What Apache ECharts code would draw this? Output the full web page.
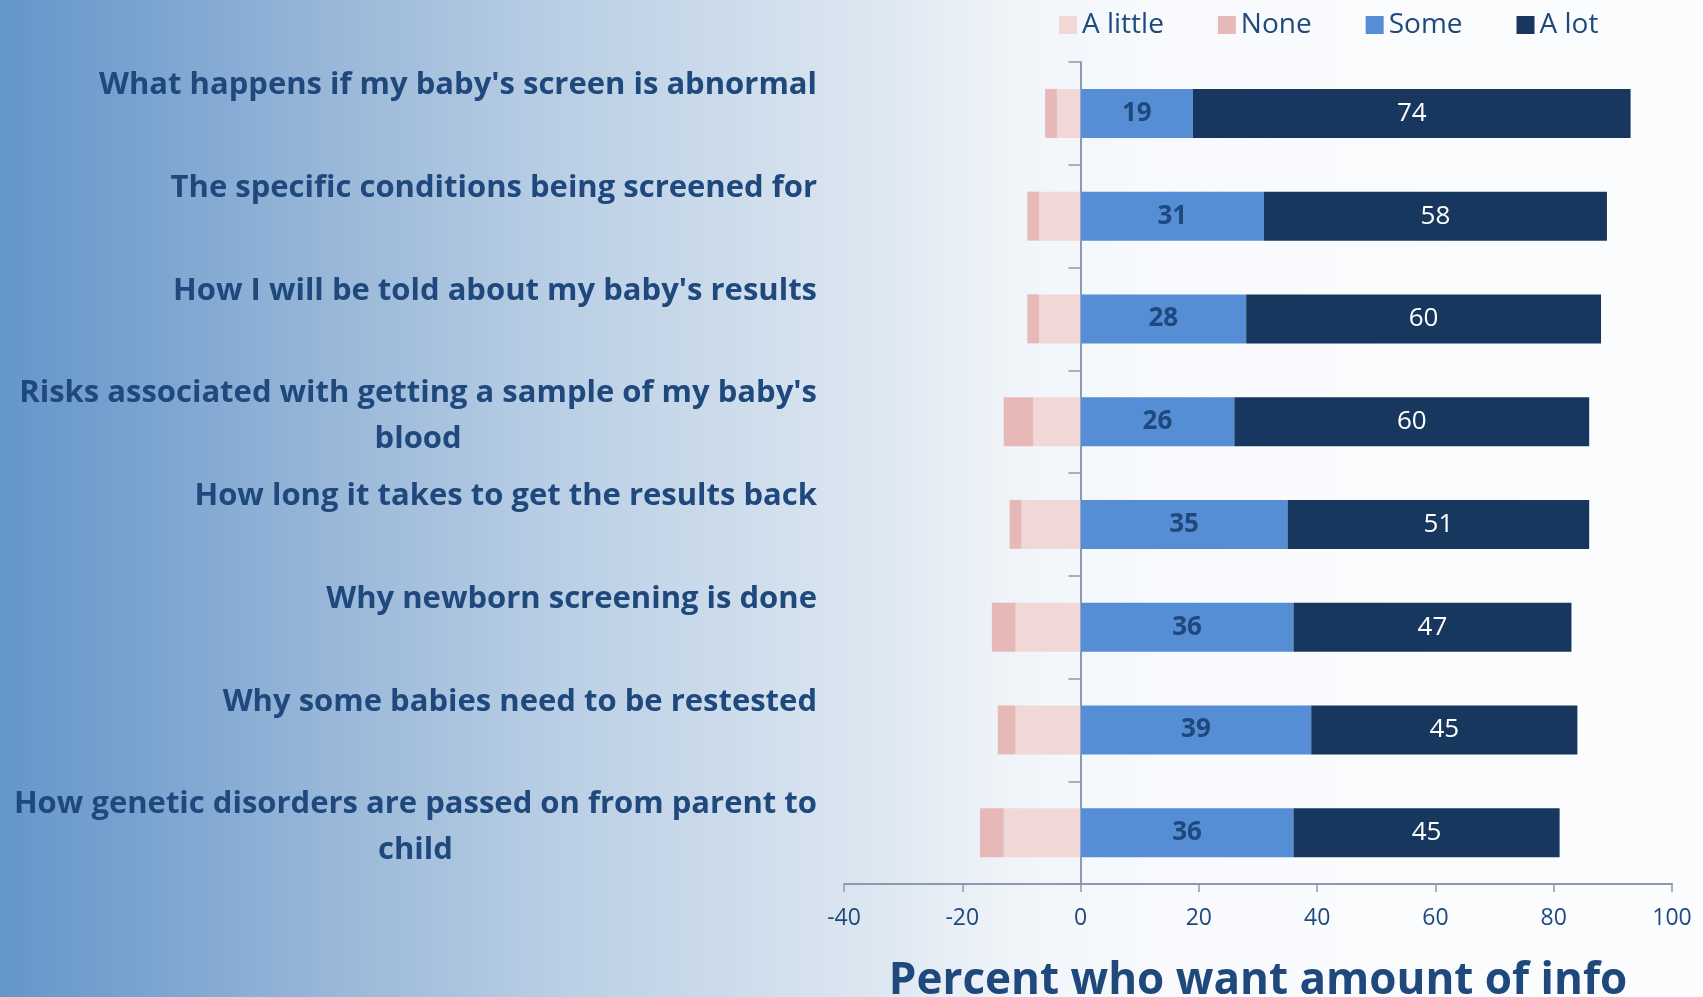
<!DOCTYPE html>
<html>
<head>
<meta charset="utf-8">
<title>Percent who want amount of info</title>
<script src="https://cdn.jsdelivr.net/npm/echarts@6/dist/echarts.min.js"></script>
<style>
  html, body { margin: 0; padding: 0; }
  #chart { width: 1703px; height: 997px; }
</style>
</head>
<body>
<div id="chart"></div>
<script>
const categories = [
  "What happens if my baby's screen is abnormal",
  'The specific conditions being screened for',
  "How I will be told about my baby's results",
  "Risks associated with getting a sample of my baby's blood",
  'How long it takes to get the results back',
  'Why newborn screening is done',
  'Why some babies need to be restested',
  'How genetic disorders are passed on from parent to child'
];
// percentages; "A little" and "None" are drawn to the left of zero
const aLittle = [4, 7, 7, 8, 10, 11, 11, 13];
const none = [2, 2, 2, 5, 2, 4, 3, 4];
const some = [19, 31, 28, 26, 35, 36, 39, 36];
const aLot = [74, 58, 60, 60, 51, 47, 45, 45];
const xTicks = { min: -40, max: 100, interval: 20 };

const textBlue = '#1f497d';
const axisGray = '#8d99b0';
const font = '"Open Sans", sans-serif';

// wrap long category names onto two lines, single lines get an empty second line
function wrapLabel(text) {
  const lines = [];
  let cur = '';
  text.split(' ').forEach(function (w) {
    const next = cur ? cur + ' ' + w : w;
    if (next.length > 52 && cur) {
      lines.push(cur);
      cur = w;
    } else {
      cur = next;
    }
  });
  lines.push(cur);
  if (lines.length === 1) lines.push(' ');
  return lines.map(function (l) { return '{c|' + l + '}'; }).join('\n');
}

const chart = echarts.init(document.getElementById('chart'));
chart.setOption({
  animation: false,
  backgroundColor: {
    type: 'linear', x: 0, y: 0, x2: 1, y2: 0,
    colorStops: [
      { offset: 0, color: '#6596ca' },
      { offset: 0.08, color: '#78a3d0' },
      { offset: 0.2, color: '#9ab8d9' },
      { offset: 0.33, color: '#bacfe5' },
      { offset: 0.5, color: '#dae5f0' },
      { offset: 0.6, color: '#f1f5f9' },
      { offset: 0.68, color: '#f8fafd' },
      { offset: 1, color: '#fcfdfe' }
    ]
  },
  textStyle: { fontFamily: font },
  legend: {
    left: 1054,
    top: 6,
    icon: 'rect',
    itemWidth: 18,
    itemHeight: 18,
    itemGap: 54,
    textStyle: { fontSize: 28, color: textBlue, fontFamily: font }
  },
  grid: {
    left: 844,
    right: 31,
    top: 62,
    bottom: 113,
    containLabel: false,
    outerBoundsMode: 'none'
  },
  xAxis: {
    type: 'value',
    min: xTicks.min,
    max: xTicks.max,
    interval: xTicks.interval,
    name: 'Percent who want amount of info',
    nameLocation: 'middle',
    nameGap: 75,
    nameTextStyle: { fontSize: 44, fontWeight: 'bold', color: textBlue, fontFamily: font },
    axisLine: { show: true, lineStyle: { color: axisGray, width: 2 } },
    axisTick: { show: true, length: 8, lineStyle: { color: axisGray, width: 1.5 } },
    axisLabel: { fontSize: 23, color: textBlue, margin: 23 },
    splitLine: { show: false }
  },
  yAxis: {
    type: 'category',
    inverse: true,
    data: categories,
    axisLine: { show: true, onZero: true, lineStyle: { color: axisGray, width: 2 } },
    axisTick: { show: true, length: 12, lineStyle: { color: axisGray, width: 1.5 } },
    axisLabel: {
      margin: 27,
      padding: [0, 0, 10, 0],
      formatter: wrapLabel,
      rich: {
        c: {
          fontFamily: font,
          fontSize: 31,
          fontWeight: 'bold',
          color: textBlue,
          lineHeight: 46,
          align: 'center'
        }
      }
    }
  },
  series: [
    {
      name: 'A little',
      type: 'bar',
      stack: 'total',
      barWidth: 49,
      itemStyle: { color: '#f2d7d7' },
      data: aLittle.map(function (v) { return -v; })
    },
    {
      name: 'None',
      type: 'bar',
      stack: 'total',
      itemStyle: { color: '#e6b8b7' },
      data: none.map(function (v) { return -v; })
    },
    {
      name: 'Some',
      type: 'bar',
      stack: 'total',
      itemStyle: { color: '#558ed5' },
      label: {
        show: true,
        position: 'inside',
        fontSize: 26,
        fontWeight: 'bold',
        color: textBlue,
        fontFamily: font
      },
      data: some
    },
    {
      name: 'A lot',
      type: 'bar',
      stack: 'total',
      itemStyle: { color: '#17375e' },
      label: {
        show: true,
        position: 'inside',
        fontSize: 26,
        color: '#ffffff',
        fontFamily: font
      },
      data: aLot
    }
  ]
});
</script>
</body>
</html>
